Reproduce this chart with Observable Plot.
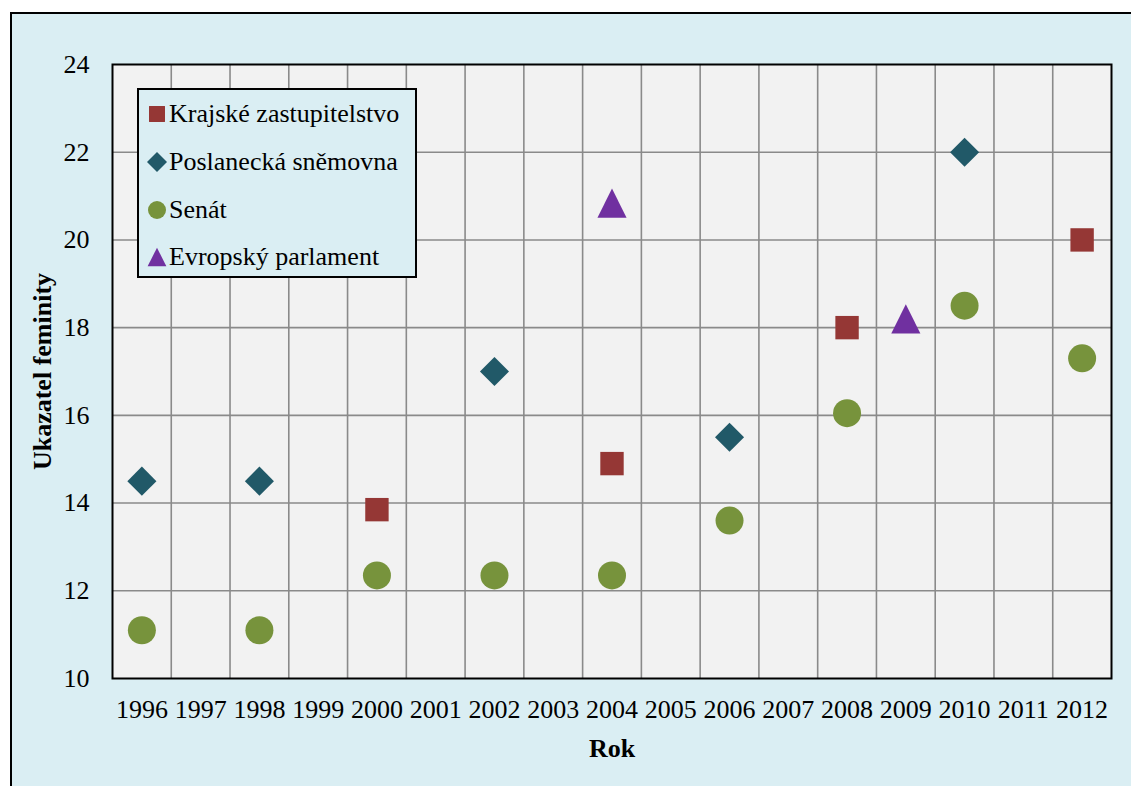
<!DOCTYPE html>
<html><head><meta charset="utf-8">
<script src="https://cdn.jsdelivr.net/npm/d3@7"></script>
<script src="https://cdn.jsdelivr.net/npm/@observablehq/plot@0.6"></script>
<style>
body{margin:0;width:1131px;height:786px;overflow:hidden;background:#fff;font-family:"Liberation Serif","Times New Roman",serif;}
#box{position:absolute;left:10px;top:12px;width:1200px;height:900px;border:2px solid #000;background:#DAEEF3;}
#chart{position:absolute;left:0;top:0;}
#legend{position:absolute;left:137px;top:88px;width:280px;height:190px;border:2px solid #000;background:#DAEEF3;box-sizing:border-box;}
.lrow{position:absolute;left:0;height:30px;display:flex;align-items:center;font-size:26px;color:#000;white-space:nowrap;}
.lrow svg{display:block;}
</style></head>
<body>
<div id="box"></div>
<div id="chart"></div>
<div id="legend"></div>
<script>
const years = [1996,1997,1998,1999,2000,2001,2002,2003,2004,2005,2006,2007,2008,2009,2010,2011,2012];
const yTicks = [10,12,14,16,18,20,22,24];
const seriesNames = ["Krajské zastupitelstvo","Poslanecká sněmovna","Senát","Evropský parlament"];
const krajske     = [null,null,null,null,13.85,null,null,null,14.9,null,null,null,18.0,null,null,null,20.0];
const poslanecka  = [14.5,null,14.5,null,null,null,17.0,null,null,null,15.5,null,null,null,22.0,null,null];
const senat       = [11.1,null,11.1,null,12.35,null,12.35,null,12.35,null,13.6,null,16.05,null,18.5,null,17.3];
const evropsky    = [null,null,null,null,null,null,null,null,20.84,null,null,null,null,18.2,null,null,null];
const colors = ["#953735","#215968","#77933C","#7030A0"];

const triangle = {draw(ctx, size){const r=Math.sqrt(size/Math.PI);const h=r*2.08;ctx.moveTo(0,-h/2);ctx.lineTo(h/2,h/2);ctx.lineTo(-h/2,h/2);ctx.closePath();}};
const symbols = ["square","diamond2","circle",triangle];
const radii = [13.2,13.1,14,14];
const d3symbols = [d3.symbolSquare,d3.symbolDiamond2,d3.symbolCircle,triangle];

const allValues = [krajske,poslanecka,senat,evropsky];
const rows = allValues.map((vals,si)=>years.map((y,i)=>({year:y,value:vals[i],series:seriesNames[si]})).filter(d=>d.value!=null));

const grid = {stroke:"#8A8A8A",strokeWidth:1.6,strokeOpacity:1};
const plot = Plot.plot({
  width:1131, height:786,
  marginLeft:112, marginTop:64, marginRight:20, marginBottom:108,
  style:{fontFamily:"'Liberation Serif','Times New Roman',serif",fontSize:"26px",color:"#000",background:"transparent",overflow:"visible"},
  x:{type:"linear",domain:[years[0]-0.5,years[years.length-1]+0.5]},
  y:{domain:[yTicks[0],yTicks[yTicks.length-1]]},
  marks:[
    Plot.frame({fill:"#F2F2F2",stroke:null}),
    Plot.ruleY(yTicks.slice(1,-1),{...grid}),
    Plot.ruleX(years.slice(1).map(y=>y-0.5),{...grid}),
    Plot.frame({stroke:"#000",strokeWidth:2}),
    ...rows.map((data,si)=>Plot.dot(data,{x:"year",y:"value",symbol:symbols[si],r:radii[si],fill:colors[si],stroke:"none"})),
    Plot.axisX(years,{tickSize:0,tickPadding:21,tickFormat:d=>String(d),label:null,fontSize:26}),
    Plot.axisY(yTicks,{tickSize:0,tickPadding:23,label:null,fontSize:26}),
    Plot.text(["Rok"],{frameAnchor:"bottom",lineAnchor:"middle",textAnchor:"middle",dy:70,fontWeight:"bold",fontSize:26}),
    Plot.text(["Ukazatel feminity"],{frameAnchor:"left",textAnchor:"middle",lineAnchor:"middle",rotate:-90,dx:-70,fontWeight:"bold",fontSize:26})
  ]
});
document.getElementById("chart").appendChild(plot);

const legend = document.getElementById("legend");
const rowY = [24,72,120,167];
seriesNames.forEach((name,i)=>{
  const row = document.createElement("div");
  row.className="lrow";
  row.style.top=(rowY[i]-15)+"px";
  const r = 9;
  const path = d3.symbol(d3symbols[i], Math.PI*r*r)();
  row.innerHTML = `<svg width="28" height="30" style="margin-left:2px"><path transform="translate(16,15)" d="${path}" fill="${colors[i]}"/></svg><span>${name}</span>`;
  legend.appendChild(row);
});
</script>
</body></html>
